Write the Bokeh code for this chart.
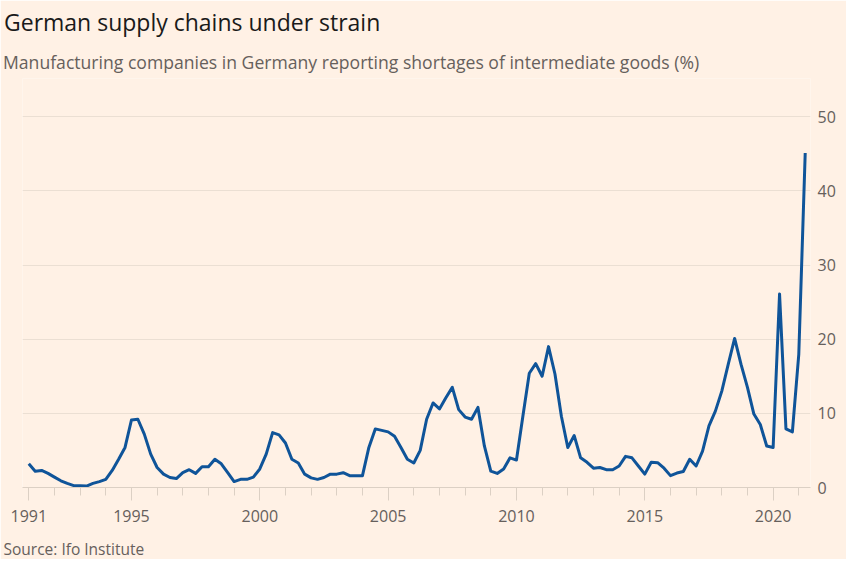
from bokeh.plotting import figure
from bokeh.models import Range1d, FixedTicker, Title
from bokeh.embed import file_html
from bokeh.resources import INLINE

# ---- data (quarterly, 1991Q1 .. 2021Q2) ----
start_year = 1991
shortages = [
    3.2, 2.2, 2.3, 1.9,   # 1991
    1.4, 0.9, 0.55, 0.25,  # 1992
    0.25, 0.2, 0.55, 0.8,  # 1993
    1.1, 2.3, 3.8, 5.4,    # 1994
    9.1, 9.2, 7.2, 4.5,    # 1995
    2.7, 1.8, 1.35, 1.2,   # 1996
    2.0, 2.4, 1.9, 2.8,    # 1997
    2.8, 3.8, 3.2, 2.0,    # 1998
    0.8, 1.1, 1.1, 1.4,    # 1999
    2.5, 4.5, 7.4, 7.1,    # 2000
    6.0, 3.8, 3.3, 1.8,    # 2001
    1.3, 1.1, 1.35, 1.8,   # 2002
    1.8, 2.0, 1.6, 1.6,    # 2003
    1.6, 5.4, 7.9, 7.7,    # 2004
    7.5, 6.9, 5.4, 3.8,    # 2005
    3.3, 5.0, 9.2, 11.4,   # 2006
    10.6, 12.1, 13.5, 10.5,  # 2007
    9.5, 9.2, 10.8, 5.6,   # 2008
    2.2, 1.9, 2.5, 4.0,    # 2009
    3.7, 9.6, 15.4, 16.7,  # 2010
    15.0, 19.0, 15.3, 9.6,  # 2011
    5.4, 7.0, 4.0, 3.4,    # 2012
    2.6, 2.7, 2.4, 2.4,    # 2013
    2.9, 4.2, 4.0, 2.9,    # 2014
    1.8, 3.4, 3.35, 2.6,   # 2015
    1.6, 1.95, 2.15, 3.8,  # 2016
    2.9, 4.9, 8.3, 10.3,   # 2017
    13.0, 16.6, 20.1, 16.6,  # 2018
    13.5, 9.9, 8.5, 5.6,   # 2019
    5.4, 26.1, 7.9, 7.5,   # 2020
    18.0, 45.1,            # 2021
]
x_years = [start_year + i * 0.25 for i in range(len(shortages))]

labelled_years = [1991, 1995, 2000, 2005, 2010, 2015, 2020]
all_years = list(range(1991, 2022))
y_ticks = [0, 10, 20, 30, 40, 50]

title_text = "German supply chains under strain"
subtitle_text = "Manufacturing companies in Germany reporting shortages of intermediate goods (%)"
source_text = "Source: Ifo Institute"

BG = "#FFF1E5"
GREY = "#66605C"
AXIS = "#DCD0C4"
FONT = "Open Sans"

p = figure(width=846, height=559, output_backend="svg", toolbar_location=None,
           x_range=Range1d(1990.755, 2021.456), y_range=Range1d(0, 55.15),
           y_axis_location="right",
           min_border_left=22, min_border_right=36, min_border_top=0,
           min_border_bottom=0)
p.background_fill_color = BG
p.border_fill_color = BG
p.outline_line_color = None

p.line(x_years, shortages, line_color="#0F5499", line_width=3, line_join="round")

# x axis
xa = p.xaxis[0]
xa.ticker = FixedTicker(ticks=labelled_years, minor_ticks=all_years)
xa.axis_line_color = AXIS
xa.major_tick_line_color = AXIS
xa.minor_tick_line_color = AXIS
xa.major_tick_in = 0
xa.major_tick_out = 13
xa.minor_tick_in = 0
xa.minor_tick_out = 8
xa.major_label_standoff = 9
xa.major_label_text_font = FONT
xa.major_label_text_font_size = "16px"
xa.major_label_text_color = GREY

# y axis (right)
ya = p.yaxis[0]
ya.ticker = FixedTicker(ticks=y_ticks)
ya.axis_line_color = None
ya.major_tick_line_color = None
ya.minor_tick_line_color = None
ya.major_tick_out = 0
ya.minor_tick_out = 0
ya.major_label_standoff = 7
ya.major_label_text_font = FONT
ya.major_label_text_font_size = "16px"
ya.major_label_text_color = GREY

p.xgrid.grid_line_color = None
p.ygrid.grid_line_color = "#EBDFD3"
p.ygrid.grid_line_width = 1

# titles above: added closest-to-frame first
p.add_layout(Title(text=subtitle_text, align="left", offset=-19.5, standoff=10,
                   text_font=FONT, text_font_size="17.6px", text_font_style="normal",
                   text_color=GREY), "above")
p.add_layout(Title(text=title_text, align="left", offset=-18.5, standoff=8.2,
                   text_font=FONT, text_font_size="23px", text_font_style="normal",
                   text_color="#1A1A1A"), "above")

# below: small spacer, then the source line
p.add_layout(Title(text=" ", align="left", offset=0, standoff=7.8,
                   text_font=FONT, text_font_size="1px", text_color=BG), "below")
p.add_layout(Title(text=source_text, align="left", offset=-19, standoff=0,
                   text_font=FONT, text_font_size="15.5px", text_font_style="normal",
                   text_color=GREY), "below")

open("out.html", "w").write(file_html(p, INLINE))
